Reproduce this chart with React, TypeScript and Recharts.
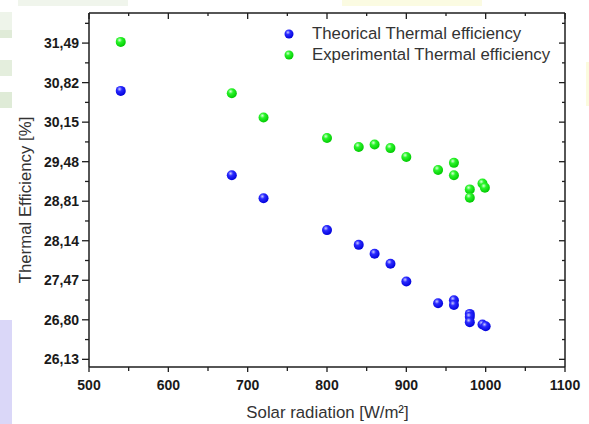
import React from 'react';
import { ScatterChart, Scatter, XAxis, YAxis, Legend } from 'recharts';

// ---- data ----
const theoricalRadiation = [540, 680, 720, 800, 840, 860, 880, 900, 940, 960, 960, 980, 980, 980, 996, 1000];
const theoricalEfficiency = [30.68, 29.25, 28.86, 28.32, 28.07, 27.92, 27.75, 27.45, 27.08, 27.13, 27.05, 26.9, 26.85, 26.76, 26.72, 26.69];
const experimentalRadiation = [540, 680, 720, 800, 840, 860, 880, 900, 940, 960, 960, 980, 980, 996, 999];
const experimentalEfficiency = [31.51, 30.64, 30.23, 29.88, 29.73, 29.77, 29.71, 29.56, 29.34, 29.46, 29.25, 29.01, 28.87, 29.11, 29.04];

const xMajorTicks = [500, 600, 700, 800, 900, 1000, 1100];
const xMinorTicks = [550, 650, 750, 850, 950, 1050];
const yMajorTicks = [26.13, 26.8, 27.47, 28.14, 28.81, 29.48, 30.15, 30.82, 31.49];
const yMinorTicks = [26.465, 27.135, 27.805, 28.475, 29.145, 29.815, 30.485, 31.155, 31.825];

const xDomain = [500, 1100];
const yDomain = [26.0, 32.0];

const theoricalName = 'Theorical Thermal efficiency';
const experimentalName = 'Experimental Thermal efficiency';
const xLabel = 'Solar radiation [W/m\u00B2]';
const yLabel = 'Thermal Efficiency [%]';

const theoricalData = theoricalRadiation.map((x, i) => ({ x, y: theoricalEfficiency[i] }));
const experimentalData = experimentalRadiation.map((x, i) => ({ x, y: experimentalEfficiency[i] }));

const xTicks = [...xMajorTicks, ...xMinorTicks].sort((a, b) => a - b);
const yTicks = [...yMajorTicks, ...yMinorTicks].sort((a, b) => a - b);

const FONT = '"Liberation Sans", Arial, Helvetica, sans-serif';
const AXIS = '#1e1e1e';
const TEXT = '#333333';

const isMajorX = (v: number) => xMajorTicks.includes(v);
const isMajorY = (v: number) => yMajorTicks.some((t) => Math.abs(t - v) < 1e-6);
const fmt = (v: number) => v.toFixed(2).replace('.', ',');

const COLORS: Record<string, string[]> = {
  blue: ['#c8c8ff', '#2a2aff', '#0000d8'],
  green: ['#d8ffd8', '#2af42a', '#00c800'],
};

const Sphere = ({ cx, cy, color, r = 5 }: any) => {
  const id = `grad-${color}`;
  const c = COLORS[color];
  return (
    <g>
      <defs>
        <radialGradient id={id} cx="38%" cy="32%" r="70%">
          <stop offset="0%" stopColor={c[0]} />
          <stop offset="35%" stopColor={c[1]} />
          <stop offset="100%" stopColor={c[2]} />
        </radialGradient>
      </defs>
      <circle cx={cx} cy={cy} r={r} fill={`url(#${id})`} />
    </g>
  );
};

const BottomTick = (props: any) => {
  const { x, y, payload } = props;
  const major = isMajorX(payload.value);
  return (
    <g>
      <line x1={x} x2={x} y1={y} y2={y + (major ? 5 : 4)} stroke={AXIS} strokeWidth={1.3} />
      {major && (
        <text x={x} y={y + 23} textAnchor="middle" fontSize={14} fontWeight="bold" fill="#1a1a1a" fontFamily={FONT}>
          {payload.value}
        </text>
      )}
    </g>
  );
};

const TopTick = (props: any) => {
  const { x, y, payload } = props;
  const major = isMajorX(payload.value);
  return <line x1={x} x2={x} y1={y} y2={y + (major ? 6 : 3)} stroke={AXIS} strokeWidth={1.3} />;
};

const LeftTick = (props: any) => {
  const { x, y, payload } = props;
  const major = isMajorY(payload.value);
  return (
    <g>
      <line x1={x - (major ? 7 : 4)} x2={x} y1={y} y2={y} stroke={AXIS} strokeWidth={1.3} />
      {major && (
        <text x={x - 10} y={y + 5} textAnchor="end" fontSize={14} fontWeight="bold" fill="#1a1a1a" fontFamily={FONT}>
          {fmt(payload.value)}
        </text>
      )}
    </g>
  );
};

const RightTick = (props: any) => {
  const { x, y, payload } = props;
  const major = isMajorY(payload.value);
  return <line x1={x - (major ? 6 : 3)} x2={x} y1={y} y2={y} stroke={AXIS} strokeWidth={1.3} />;
};

const LegendContent = () => (
  <div style={{ fontFamily: FONT, fontSize: 16.8, color: TEXT, lineHeight: '20.5px' }}>
    {[
      { name: theoricalName, color: 'blue' },
      { name: experimentalName, color: 'green' },
    ].map((item) => (
      <div key={item.name} style={{ display: 'flex', alignItems: 'center', whiteSpace: 'nowrap' }}>
        <svg width={12} height={12} style={{ marginRight: 17 }}>
          <Sphere cx={6} cy={6} r={4.5} color={item.color} />
        </svg>
        <span>{item.name}</span>
      </div>
    ))}
  </div>
);

const Deco = ({ l, t, w, h, c }: any) => (
  <div style={{ position: 'absolute', left: l, top: t, width: w, height: h, background: c }} />
);

export default function App() {
  return (
    <div style={{ position: 'absolute', left: 0, top: 0, width: 589, height: 424, background: '#ffffff', overflow: 'hidden' }}>
      <Deco l={0} t={320} w={12} h={104} c="#dad7f8" />
      <Deco l={0} t={12} w={12} h={22} c="#eef4ea" />
      <Deco l={0} t={30} w={12} h={8} c="#e0ebd8" />
      <Deco l={0} t={60} w={12} h={16} c="#e4eedd" />
      <Deco l={0} t={92} w={12} h={16} c="#dfebd7" />
      <Deco l={18} t={0} w={110} h={6} c="#f0f5ec" />
      <Deco l={342} t={0} w={140} h={6} c="#fbfbe2" />
      <Deco l={586} t={62} w={3} h={44} c="#fbfbde" />
      <div style={{ position: 'absolute', left: 0, top: 0 }}>
        <ScatterChart width={589} height={424} margin={{ top: 12, right: 23, bottom: 0, left: 0 }}>
          <XAxis
            dataKey="x"
            type="number"
            domain={xDomain}
            ticks={xTicks}
            interval={0}
            height={57}
            tickSize={0}
            tickMargin={0}
            tickLine={false}
            axisLine={{ stroke: AXIS, strokeWidth: 1.5 }}
            tick={<BottomTick />}
            allowDataOverflow
          />
          <XAxis
            xAxisId="top"
            dataKey="x"
            orientation="top"
            type="number"
            domain={xDomain}
            ticks={xTicks}
            interval={0}
            height={1}
            tickSize={0}
            tickMargin={0}
            tickLine={false}
            axisLine={{ stroke: AXIS, strokeWidth: 1.5 }}
            tick={<TopTick />}
            allowDataOverflow
          />
          <YAxis
            dataKey="y"
            type="number"
            domain={yDomain}
            ticks={yTicks}
            interval={0}
            width={89}
            tickSize={0}
            tickMargin={0}
            tickLine={false}
            axisLine={{ stroke: AXIS, strokeWidth: 1.5 }}
            tick={<LeftTick />}
            allowDataOverflow
          />
          <YAxis
            yAxisId="right"
            dataKey="y"
            orientation="right"
            type="number"
            domain={yDomain}
            ticks={yTicks}
            interval={0}
            width={1}
            tickSize={0}
            tickMargin={0}
            tickLine={false}
            axisLine={{ stroke: AXIS, strokeWidth: 1.5 }}
            tick={<RightTick />}
            allowDataOverflow
          />
          <Legend
            layout="vertical"
            align="center"
            verticalAlign="middle"
            content={<LegendContent />}
            wrapperStyle={{ position: 'absolute', left: 283, top: 24, width: 'auto' }}
          />
          <Scatter
            name={theoricalName}
            data={theoricalData}
            isAnimationActive={false}
            shape={(p: any) => <Sphere cx={p.cx} cy={p.cy} color="blue" />}
          />
          <Scatter
            name={experimentalName}
            data={experimentalData}
            xAxisId="top"
            yAxisId="right"
            isAnimationActive={false}
            shape={(p: any) => <Sphere cx={p.cx} cy={p.cy} color="green" />}
          />
        </ScatterChart>
      </div>
      <svg width={589} height={424} style={{ position: 'absolute', left: 0, top: 0, pointerEvents: 'none' }}>
        <text x={327.5} y={418} textAnchor="middle" fontSize={16.8} fill={TEXT} fontFamily={FONT}>
          {xLabel}
        </text>
        <text
          x={0}
          y={0}
          transform="translate(31 200) rotate(-90)"
          textAnchor="middle"
          fontSize={16.8}
          fill={TEXT}
          fontFamily={FONT}
        >
          {yLabel}
        </text>
      </svg>
    </div>
  );
}
